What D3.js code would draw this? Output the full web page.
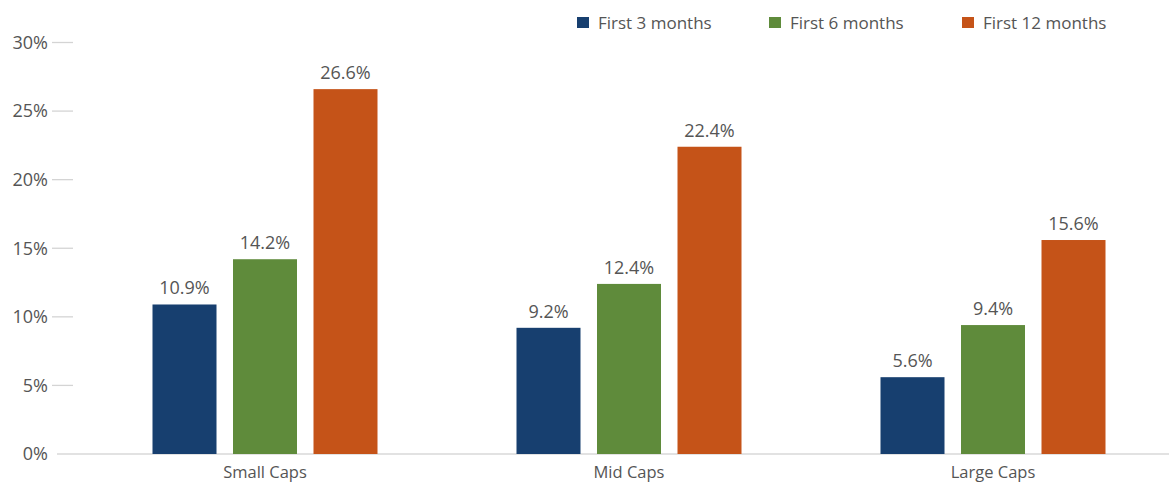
<!DOCTYPE html>
<html>
<head>
<meta charset="utf-8">
<script src="https://cdn.jsdelivr.net/npm/d3@7"></script>
<style>
  body { margin: 0; background: #fff; }
  text { font-family: "Open Sans", sans-serif; }
</style>
</head>
<body>
<div id="chart"></div>
<script>
// data
const categories = ["Small Caps", "Mid Caps", "Large Caps"];
const series = ["First 3 months", "First 6 months", "First 12 months"];
const first3 = [10.9, 9.2, 5.6];
const first6 = [14.2, 12.4, 9.4];
const first12 = [26.6, 22.4, 15.6];
const yTicks = [0, 5, 10, 15, 20, 25, 30];
const colors = ["#173f6f", "#5f8b3b", "#c55318"];

const values = [first3, first6, first12];
const W = 1169, H = 485;

let svg = d3.select("#chart").append("svg")
    .attr("width", W)
    .attr("height", H);

// scales
let x0 = d3.scaleBand()
    .domain(categories)
    .range([83, 1175])
    .paddingInner(0)
    .paddingOuter(0);
let groupW = 225;
let x1 = d3.scaleBand()
    .domain(series)
    .range([(x0.bandwidth() - groupW) / 2, (x0.bandwidth() + groupW) / 2])
    .paddingInner(0.205)
    .paddingOuter(0);
let y = d3.scaleLinear()
    .domain([0, 30])
    .range([454, 42.5]);

// y axis: short tick lines + labels
let yAxis = svg.append("g");
yAxis.selectAll("line")
    .data(yTicks.filter(d => d > 0))
  .enter().append("line")
    .attr("x1", 52).attr("x2", 73)
    .attr("y1", d => y(d)).attr("y2", d => y(d))
    .attr("stroke", "#d4d4d4")
    .attr("stroke-width", 1.3);
yAxis.selectAll("text")
    .data(yTicks)
  .enter().append("text")
    .attr("x", 48)
    .attr("y", d => y(d))
    .attr("dy", "0.35em")
    .attr("text-anchor", "end")
    .attr("fill", "#555")
    .attr("font-size", 18)
    .text(d => d + "%");

// baseline
svg.append("line")
    .attr("x1", 57).attr("x2", W)
    .attr("y1", y(0)).attr("y2", y(0))
    .attr("stroke", "#d9d9d9")
    .attr("stroke-width", 1.5);

// bars
let groups = svg.selectAll(".group")
    .data(categories)
  .enter().append("g")
    .attr("class", "group")
    .attr("transform", d => "translate(" + x0(d) + ",0)");

groups.selectAll("rect")
    .data((c, i) => series.map((s, j) => ({s: s, v: values[j][i], j: j})))
  .enter().append("rect")
    .attr("x", d => x1(d.s))
    .attr("width", x1.bandwidth())
    .attr("y", d => y(d.v))
    .attr("height", d => y(0) - y(d.v))
    .attr("fill", d => colors[d.j]);

groups.selectAll(".lbl")
    .data((c, i) => series.map((s, j) => ({s: s, v: values[j][i]})))
  .enter().append("text")
    .attr("class", "lbl")
    .attr("x", d => x1(d.s) + x1.bandwidth() / 2)
    .attr("y", d => y(d.v) - 10)
    .attr("text-anchor", "middle")
    .attr("fill", "#555")
    .attr("font-size", 18)
    .text(d => d.v.toFixed(1) + "%");

// category labels
svg.selectAll(".cat")
    .data(categories)
  .enter().append("text")
    .attr("class", "cat")
    .attr("x", d => x0(d) + x0.bandwidth() / 2)
    .attr("y", 478)
    .attr("text-anchor", "middle")
    .attr("fill", "#555")
    .attr("font-size", 16.5)
    .text(d => d);

// legend
const legendX = [577, 769, 962];
let legend = svg.selectAll(".leg")
    .data(series)
  .enter().append("g")
    .attr("class", "leg")
    .attr("transform", (d, i) => "translate(" + legendX[i] + ",0)");
legend.append("rect")
    .attr("x", 0).attr("y", 17)
    .attr("width", 12).attr("height", 11)
    .attr("fill", (d, i) => colors[i]);
legend.append("text")
    .attr("x", 21)
    .attr("y", 29)
    .attr("fill", "#555")
    .attr("font-size", 17)
    .text(d => d);
</script>
</body>
</html>
